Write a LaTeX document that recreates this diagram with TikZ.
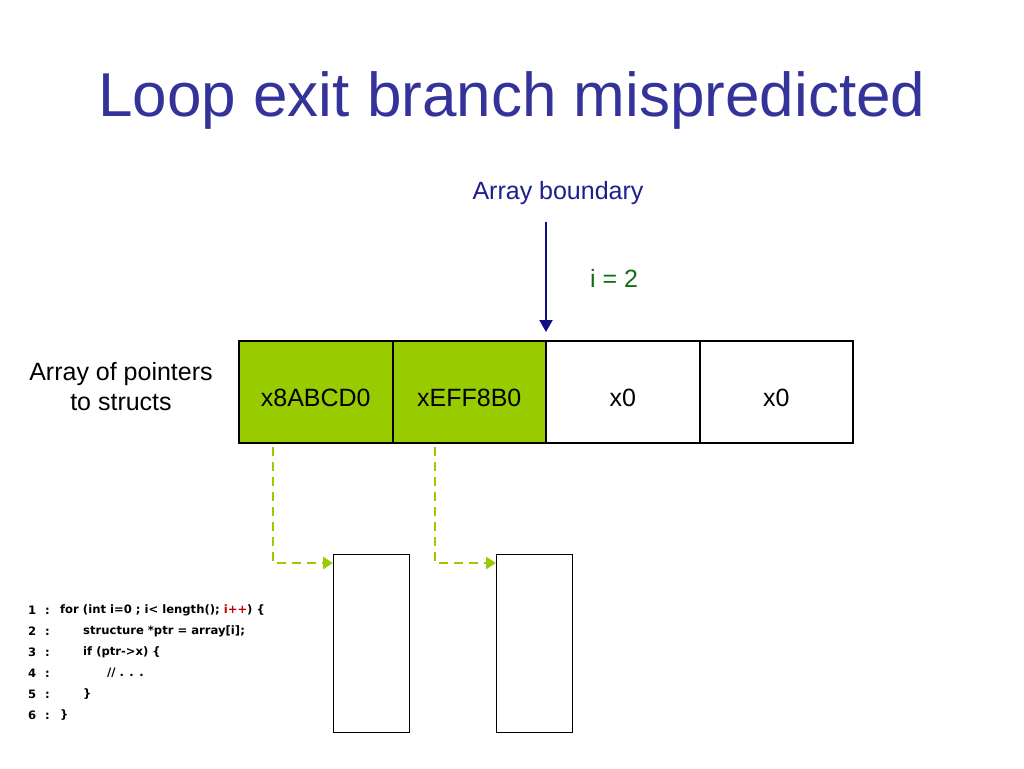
\documentclass[tikz,border=0pt]{standalone}
\usepackage{fontspec}
\setmainfont{Liberation Sans}
\newfontfamily\codefont{DejaVu Sans}
\usetikzlibrary{arrows.meta,positioning}

\definecolor{titleblue}{HTML}{333399}
\definecolor{bndblue}{HTML}{1E1E8C}
\definecolor{arrowblue}{HTML}{101080}
\definecolor{idxgreen}{HTML}{107010}
\definecolor{ptrgreen}{HTML}{99CC00}
\definecolor{incred}{HTML}{C00000}

\tikzset{
  cell/.style={draw,line width=2pt,minimum width=153.5pt,minimum height=102pt,
    inner sep=0pt,outer sep=0pt,text height=30pt,font=\fontsize{25}{30}\selectfont},
  full/.style={cell,fill=ptrgreen},
  target/.style={draw,line width=1pt,minimum width=76pt,minimum height=178pt,inner sep=0pt},
  ptr/.style={ptrgreen,line width=2.6pt,dash pattern=on 9pt off 6pt,-{Triangle[length=10pt,width=12pt]}},
  codeline/.style={anchor=west,inner sep=0pt,font=\codefont\bfseries\fontsize{11.6}{14}\selectfont}
}

\begin{document}
\begin{tikzpicture}[x=1pt,y=-1pt]
\useasboundingbox (0,0) rectangle (1024,768);

\node[titleblue,font=\fontsize{62}{70}\selectfont] (title) at (512,100) {Loop exit branch mispredicted};

% array cells
\node[full,anchor=north west] (c1) at (239,341) {x8ABCD0};
\node[full] (c2) [right=0pt of c1] {xEFF8B0};
\node[cell] (c3) [right=0pt of c2] {x0};
\node[cell] (c4) [right=0pt of c3] {x0};

\node[align=center,font=\fontsize{25}{30}\selectfont] (arrlbl) at (121,387) {Array of pointers\\to structs};

% boundary
\node[bndblue,font=\fontsize{25}{30}\selectfont] (bnd) at (558,193) {Array boundary};
\coordinate (bndtop) at (546,222);
\draw[arrowblue,line width=2pt,-{Triangle[length=12pt,width=13pt]},shorten >=9pt] (bndtop) -- (c2.north east);
\node[idxgreen,font=\fontsize{25}{30}\selectfont] (idx) at (614,278) {i = 2};

% pointed-to structs
\node[target,anchor=north west] (s1) at (333,554) {};
\node[target,anchor=north west] (s2) at (496,554) {};
\coordinate (p1) at (273,447);
\coordinate (p2) at (435,447);
\draw[ptr] (p1) |- ([yshift=-9pt]s1.north west);
\draw[ptr] (p2) |- ([yshift=-9pt]s2.north west);

% code
\foreach \n/\x/\txt in {1/60/{for (int i=0 ; i< length(); {\color{incred}i++}) \{},
                        2/83/{structure *ptr = array[i];},
                        3/83/{if (ptr->x) \{},
                        4/107/{// . . .},
                        5/83/{\}},
                        6/60/{\}}}{
  \node[codeline] (n\n) at (28,589+21*\n) {\makebox[17pt][l]{\n}:};
  \node[codeline] (l\n) at (\x,589+21*\n) {\txt};
}
\end{tikzpicture}
\end{document}
